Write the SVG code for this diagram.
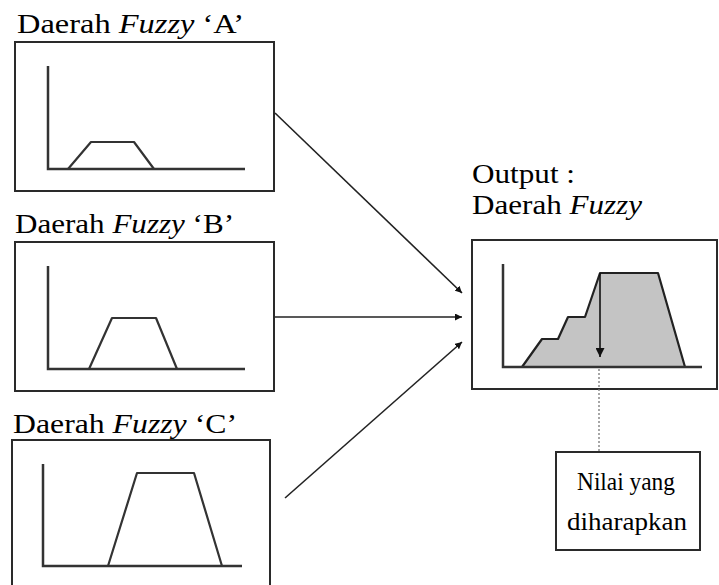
<svg xmlns="http://www.w3.org/2000/svg" width="719" height="585" viewBox="0 0 719 585">
<style>
text{font-family:"Liberation Serif","Times New Roman",serif;font-size:28px;fill:#000}
.it{font-style:italic}
.sm{font-size:25px}
.box{fill:#fff;stroke:#2a2a2a;stroke-width:2}
.ax{fill:none;stroke:#333;stroke-width:2.5}
.mf{fill:none;stroke:#333;stroke-width:2.2;stroke-linejoin:round}
.con{fill:none;stroke:#222;stroke-width:1.6}
</style>
<defs>
<marker id="ah" viewBox="0 0 10 10" refX="10" refY="5" markerWidth="7" markerHeight="7" markerUnits="userSpaceOnUse" orient="auto">
<path d="M0,0 L10,5 L0,10 z" fill="#111"/>
</marker>
<marker id="ah2" viewBox="0 0 10 10" refX="10" refY="5" markerWidth="9" markerHeight="9" markerUnits="userSpaceOnUse" orient="auto">
<path d="M0,0 L10,5 L0,10 z" fill="#111"/>
</marker>
</defs>
<rect width="719" height="585" fill="#fff"/>

<g id="nodeA">
<text x="17" y="33" textLength="227" lengthAdjust="spacingAndGlyphs">Daerah <tspan class="it">Fuzzy</tspan> ‘A’</text>
<rect class="box" x="15" y="42" width="259" height="149"/>
<path class="ax" d="M48,66 V169 H245"/>
<path class="mf" d="M68,169 L91,142 L134,142 L154,169"/>
</g>

<g id="nodeB">
<text x="15" y="233" textLength="219" lengthAdjust="spacingAndGlyphs">Daerah <tspan class="it">Fuzzy</tspan> ‘B’</text>
<rect class="box" x="15" y="242" width="259" height="149"/>
<path class="ax" d="M48,266 V369 H245"/>
<path class="mf" d="M89,369 L112,318 L156,318 L177,369"/>
</g>

<g id="nodeC">
<text x="13" y="433" textLength="224" lengthAdjust="spacingAndGlyphs">Daerah <tspan class="it">Fuzzy</tspan> ‘C’</text>
<rect class="box" x="12" y="440" width="258" height="152"/>
<path class="ax" d="M43,464 V566 H242"/>
<path class="mf" d="M108,566 L137,473 L194,473 L222,566"/>
</g>

<g id="output">
<text x="472" y="183" textLength="103" lengthAdjust="spacingAndGlyphs">Output :</text>
<text x="472" y="214" textLength="170" lengthAdjust="spacingAndGlyphs">Daerah <tspan class="it">Fuzzy</tspan></text>
<rect class="box" x="472" y="240" width="245" height="149"/>
<path d="M522,367 L542,339 L558,339 L568,317 L585,317 L600,273 L658,273 L685,367 Z" fill="#c4c4c4" stroke="#222" stroke-width="2.2" stroke-linejoin="round"/>
<path class="ax" d="M503,264 V367 H702"/>
<line x1="600" y1="273" x2="600" y2="357" stroke="#111" stroke-width="1.6" marker-end="url(#ah2)"/>
</g>

<g id="nilai">
<rect class="box" x="556" y="452" width="144" height="98"/>
<text class="sm" x="577" y="490" textLength="98" lengthAdjust="spacingAndGlyphs">Nilai yang</text>
<text class="sm" x="567" y="530" textLength="120" lengthAdjust="spacingAndGlyphs">diharapkan</text>
</g>

<g id="connectors">
<line class="con" x1="275" y1="113" x2="462" y2="293" marker-end="url(#ah)"/>
<line class="con" x1="275" y1="317" x2="462" y2="317" marker-end="url(#ah)"/>
<line class="con" x1="285" y1="498" x2="462" y2="342" marker-end="url(#ah)"/>
<line x1="599" y1="369" x2="599" y2="451" stroke="#777" stroke-width="1.3" stroke-dasharray="2,2"/>
</g>
</svg>
